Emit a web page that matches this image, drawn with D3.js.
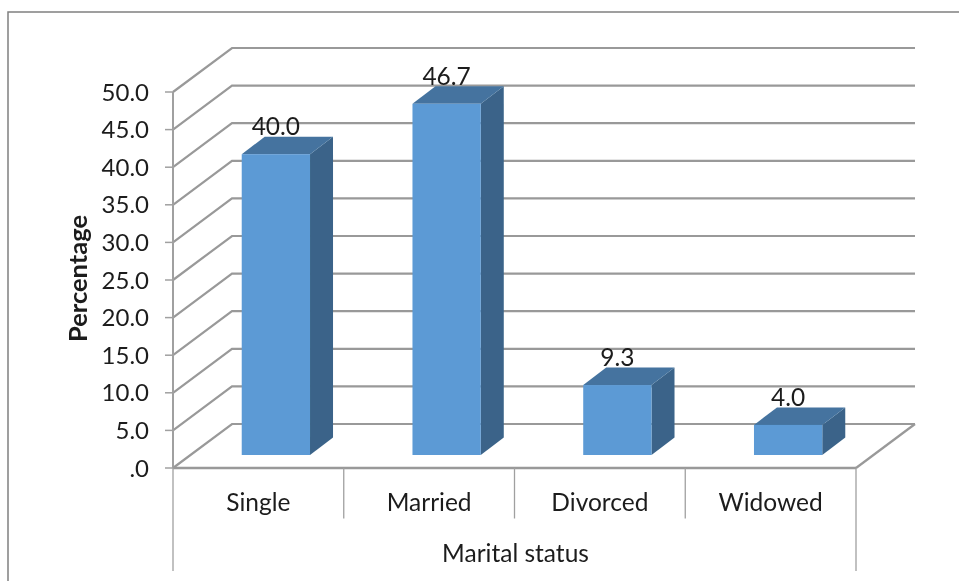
<!DOCTYPE html>
<html><head><meta charset="utf-8">
<script src="https://cdn.jsdelivr.net/npm/d3@7"></script>
<style>html,body{margin:0;background:#fff}svg{display:block}text{font-family:Lato,sans-serif;fill:#1c1c1c}</style>
</head><body><svg id="c" width="959" height="581"></svg>
<script>
const categories = ["Single","Married","Divorced","Widowed"];
const values = [40.0,46.7,9.3,4.0];
const valueLabels = ["40.0","46.7","9.3","4.0"];
const yTicks = [0,5,10,15,20,25,30,35,40,45,50];
const yTickLabels = [".0","5.0","10.0","15.0","20.0","25.0","30.0","35.0","40.0","45.0","50.0"];
const yTitle = "Percentage", xTitle = "Marital status";

const svg = d3.select("#c");
const defs = svg.append("defs");
defs.append("filter").attr("id","soft").attr("x","-5%").attr("y","-5%").attr("width","110%").attr("height","110%")
  .append("feGaussianBlur").attr("stdDeviation",0.45);
const root = svg.append("g").attr("filter","url(#soft)");
const x = d3.scaleBand().domain(categories).range([173,856]);
const y = d3.scaleLinear().domain([0,50]).range([468,92]);
const wallDx = 59, wallDy = -44, barDx = 23, barDy = -17.5, baseDx = 17.5, baseDy = -13;
const barW = x.bandwidth()*0.4;
const gridC = "#999999", axisC = "#a0a0a0";
const fs = 24.5;

root.append("rect").attr("width",959).attr("height",581).attr("fill","#fff");
root.append("rect").attr("x",8).attr("y",12).attr("width",980).attr("height",600).attr("fill","#fff").attr("stroke","#808080").attr("stroke-width",1.5);
const g = root.append("g").attr("class","grid");
yTicks.forEach(t=>{
  g.append("path").attr("d",`M${x.range()[0]},${y(t)}L${x.range()[0]+wallDx},${y(t)+wallDy}L${x.range()[1]+wallDx},${y(t)+wallDy}`)
   .attr("fill","none").attr("stroke",gridC).attr("stroke-width",2.2);
});
g.append("line").attr("x1",x.range()[1]).attr("y1",y(0)).attr("x2",x.range()[1]+wallDx).attr("y2",y(0)+wallDy).attr("stroke",gridC).attr("stroke-width",2.2);
const ax = root.append("g");
ax.append("line").attr("x1",173).attr("x2",173).attr("y1",y(50)).attr("y2",y(0)).attr("stroke",axisC).attr("stroke-width",2);
yTicks.forEach((t,i)=>{
  ax.append("line").attr("x1",165).attr("x2",173).attr("y1",y(t)).attr("y2",y(t)).attr("stroke",axisC).attr("stroke-width",1.5);
  root.append("text").attr("x",149).attr("y",y(t)+8.5).attr("text-anchor","end").attr("font-size",24).text(yTickLabels[i]);
});
ax.append("line").attr("x1",173).attr("x2",856).attr("y1",y(0)).attr("y2",y(0)).attr("stroke",gridC).attr("stroke-width",2.4);
categories.forEach((c,i)=>{
  const xt = x(c);
  ax.append("line").attr("x1",xt).attr("x2",xt).attr("y1",y(0)).attr("y2",i==0?571:518.5).attr("stroke",axisC).attr("stroke-width",1.3);
  root.append("text").attr("x",xt+x.bandwidth()/2).attr("y",511).attr("text-anchor","middle").attr("font-size",fs).text(c);
});
ax.append("line").attr("x1",856).attr("x2",856).attr("y1",y(0)).attr("y2",571).attr("stroke",axisC).attr("stroke-width",1.3);
categories.forEach((c,i)=>{
  const x0 = x(c)+(x.bandwidth()-barW)/2+baseDx, x1 = x0+barW, yb = y(0)+baseDy, yt = y(values[i])+baseDy;
  root.append("path").attr("d",`M${x1},${yb}L${x1+barDx},${yb+barDy}L${x1+barDx},${yt+barDy}L${x1},${yt}Z`).attr("fill","#3a6489");
  root.append("path").attr("d",`M${x0},${yt}L${x0+barDx},${yt+barDy}L${x1+barDx},${yt+barDy}L${x1},${yt}Z`).attr("fill","#44739f");
  root.append("rect").attr("x",x0).attr("y",yt).attr("width",barW).attr("height",yb-yt).attr("fill","#5b9ad5");
  root.append("text").attr("x",x0+barW/2).attr("y",yt-19).attr("text-anchor","middle").attr("font-size",fs).text(valueLabels[i]);
});
root.append("text").attr("transform","translate(86.5,278.5) rotate(-90)").attr("text-anchor","middle").attr("font-size",25.5).attr("font-weight","700").text(yTitle);
root.append("text").attr("x",515.5).attr("y",562).attr("text-anchor","middle").attr("font-size",fs).text(xTitle);
</script></body></html>
